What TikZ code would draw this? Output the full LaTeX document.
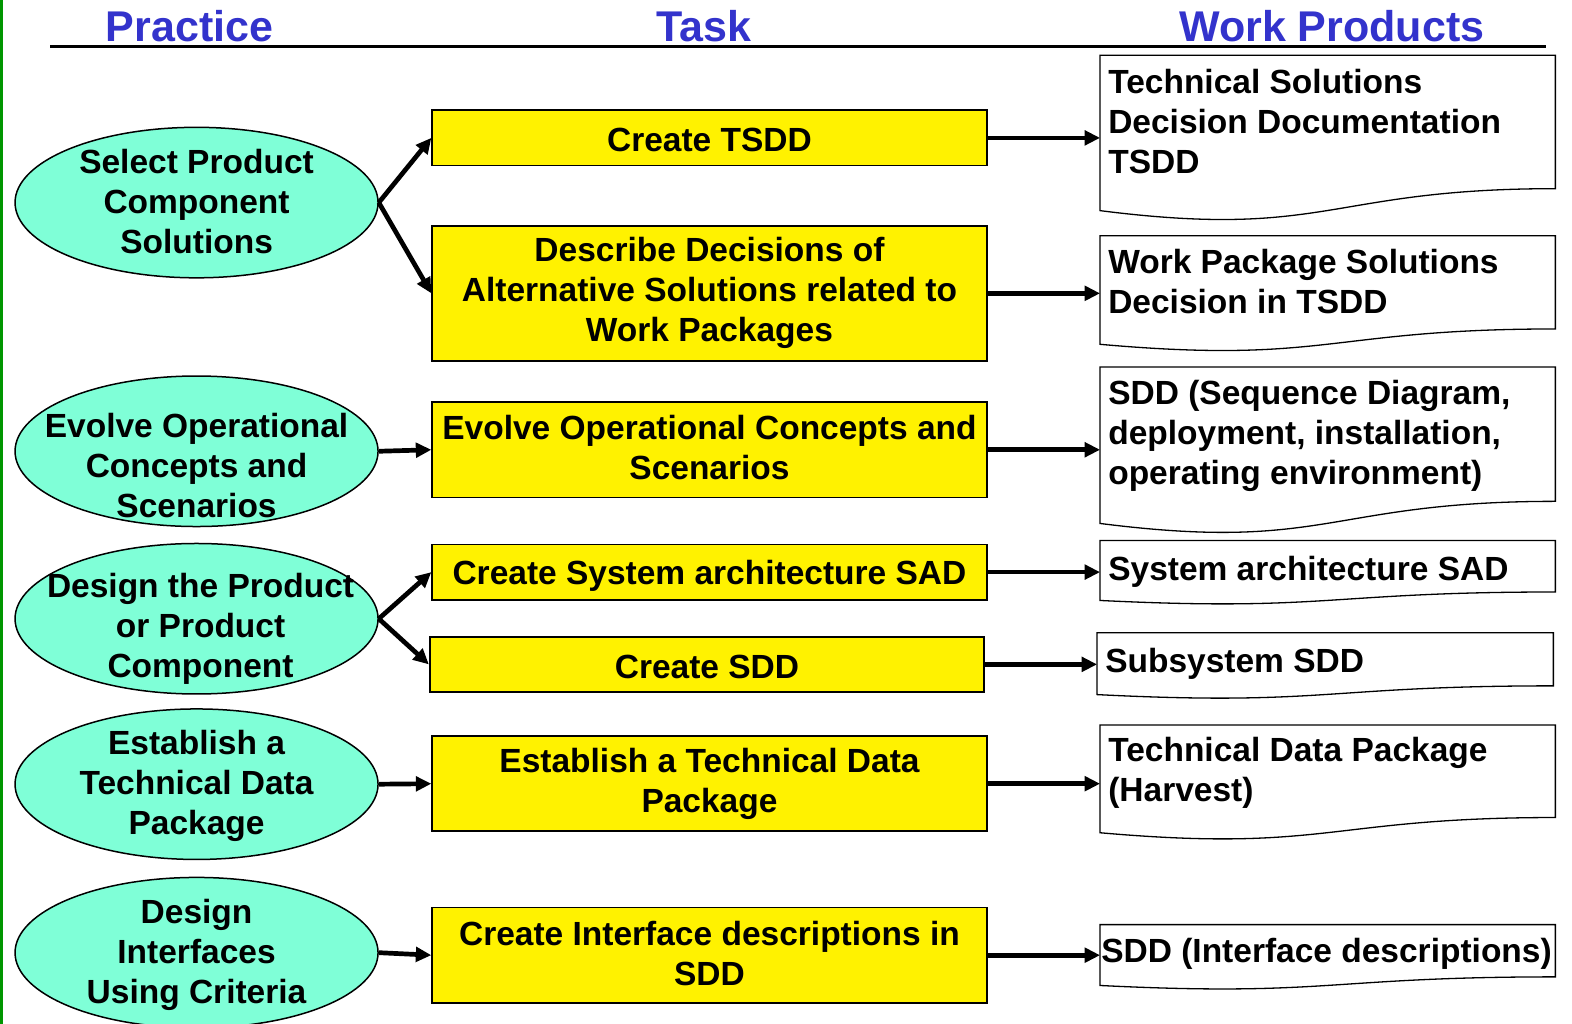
\documentclass[tikz,border=0pt]{standalone}
\usepackage{fontspec}
\setmainfont{Liberation Sans}
\usetikzlibrary{arrows.meta,shapes.geometric}
\definecolor{aqua}{RGB}{127,255,215}
\definecolor{ttl}{RGB}{51,51,204}
\definecolor{edgegreen}{RGB}{0,150,0}
\newcommand\bigfont{\bfseries\fontsize{33.5bp}{40bp}\selectfont}
\newcommand\topstrut{\rule{0pt}{32.5bp}}
\newcommand\botstrut{\rule[-4.5bp]{0pt}{4.5bp}}
\newcommand\mltopstrut{\rule{0pt}{37.5bp}}
% name, x0, y0, w, h
\newcommand\docshape[5]{%
  \draw[docline] (#2,#3) -- ({#2+#4},#3) -- ({#2+#4},{#3+0.802*#5})
    .. controls ({#2+0.5*#4},{#3+0.802*#5}) and ({#2+0.5*#4},{#3+1.1075*#5}) .. ({#2},{#3+0.934*#5}) -- cycle;
}
\begin{document}
\begin{tikzpicture}[x=1.0028bp,y=-1.0028bp,
  strutted/.style={execute at begin node=\topstrut, execute at end node=\botstrut},
  ml/.style={execute at begin node=\mltopstrut},
  txt/.style={font=\bigfont, align=center, inner sep=0bp, strutted},
  prac/.style={ellipse, draw=black, line width=1.5bp, fill=aqua, inner sep=0bp, minimum width=363bp, minimum height=150.5bp},
  taskbox/.style={rectangle, draw=black, line width=1.8bp, fill=yellow, inner sep=0bp, minimum width=554.5bp, font=\bigfont, align=center, strutted},
  docline/.style={draw=black, line width=1.3bp, fill=white},
  doctext/.style={rectangle, draw=none, inner ysep=0bp, inner xsep=8bp, font=\bigfont, align=left, anchor=west, strutted},
  arr/.style={line width=4.7bp, -{Triangle[length=15.5bp,width=14.5bp]}},
  title/.style={font=\bfseries\fontsize{43bp}{50bp}\selectfont, text=ttl, inner sep=0bp}]
\useasboundingbox (0,0) rectangle (1567.6,1021.1);
\fill[edgegreen] (0,0) rectangle (2.5,1021.1);

% titles
\node[title] (tp) at (189,26) {Practice};
\node[title] (tt) at (702,26) {Task};
\node[title] (tw) at (1328,26) {Work Products};
\draw[line width=3bp] (50,46.3) -- (1542,46.3);

% practices
\node[prac] (e1) at (196,202) {};
\node[txt, ml] (e1t) at (196,203) {Select Product\\Component\\Solutions};
\node[prac] (e2) at (196,450) {};
\node[txt, ml] (e2t) at (196,466) {Evolve Operational\\Concepts and\\Scenarios};
\node[prac] (e3) at (196,617) {};
\node[txt, ml] (e3t) at (200,627) {Design the Product\\or Product\\Component};
\node[prac] (e4) at (196,782) {};
\node[txt, ml] (e4t) at (196,784) {Establish a\\Technical Data\\Package};
\node[prac] (e5) at (196,950) {};
\node[txt, ml] (e5t) at (196,952) {Design\\Interfaces\\Using Criteria};

% tasks
\node[taskbox, minimum height=55.2bp] (b1) at (707.5,137.5) {Create TSDD};
\node[taskbox, ml, minimum height=135.4bp] (b2) at (707.5,292.5) {Describe Decisions of\\Alternative Solutions related to\\Work Packages};
\node[taskbox, ml, minimum height=95.3bp] (b3) at (707.5,448.5) {Evolve Operational Concepts and\\Scenarios};
\node[taskbox, minimum height=55.2bp] (b4) at (707.5,570.5) {Create System architecture SAD};
\node[taskbox, minimum height=55.2bp] (b5) at (705,662.5) {Create SDD};
\node[taskbox, ml, minimum height=95.3bp] (b6) at (707.5,781.5) {Establish a Technical Data\\Package};
\node[taskbox, ml, minimum height=95.3bp] (b7) at (707.5,952.5) {Create Interface descriptions in\\SDD};

% work products
\docshape{d1}{1097}{55}{454}{166}
\node[doctext, ml] (d1) at (1097,123.5) {Technical Solutions\\Decision Documentation\\TSDD};
\docshape{d2}{1097}{235}{454}{116}
\node[doctext, ml] (d2) at (1097,282.5) {Work Package Solutions\\Decision in TSDD};
\docshape{d3}{1097}{366}{454}{167}
\node[doctext, ml] (d3) at (1097,435) {SDD (Sequence Diagram,\\deployment, installation,\\operating environment)};
\docshape{d4}{1097}{539}{454}{64}
\node[doctext] (d4) at (1097,566) {System architecture SAD};
\docshape{d5}{1094}{631}{455}{66}
\node[doctext] (d5) at (1094,658) {Subsystem SDD};
\docshape{d6}{1097}{723}{454}{115}
\node[doctext, ml] (d6) at (1097,771) {Technical Data Package\\(Harvest)};
\docshape{d7}{1097}{922}{454}{65}
\node[doctext, inner xsep=1bp] (d7) at (1097,947) {SDD (Interface descriptions)};

% connectors practice -> task
\draw[arr] (e1.east) -- (b1.west);
\draw[arr] (e1.east) -- (b2.west);
\draw[arr] (e2.east) -- (b3.west);
\draw[arr] (e3.east) -- (b4.west);
\draw[arr] (e3.east) -- (b5.west);
\draw[arr] (e4.east) -- (b6.west);
\draw[arr] (e5.east) -- (b7.west);

% connectors task -> product
\draw[arr] (b1.east) -- (b1.east -| d1.west);
\draw[arr] (b2.east) -- (b2.east -| d2.west);
\draw[arr] (b3.east) -- (b3.east -| d3.west);
\draw[arr] (b4.east) -- (b4.east -| d4.west);
\draw[arr] (b5.east) -- (b5.east -| d5.west);
\draw[arr] (b6.east) -- (b6.east -| d6.west);
\draw[arr] (b7.east) -- (b7.east -| d7.west);
\end{tikzpicture}
\end{document}
